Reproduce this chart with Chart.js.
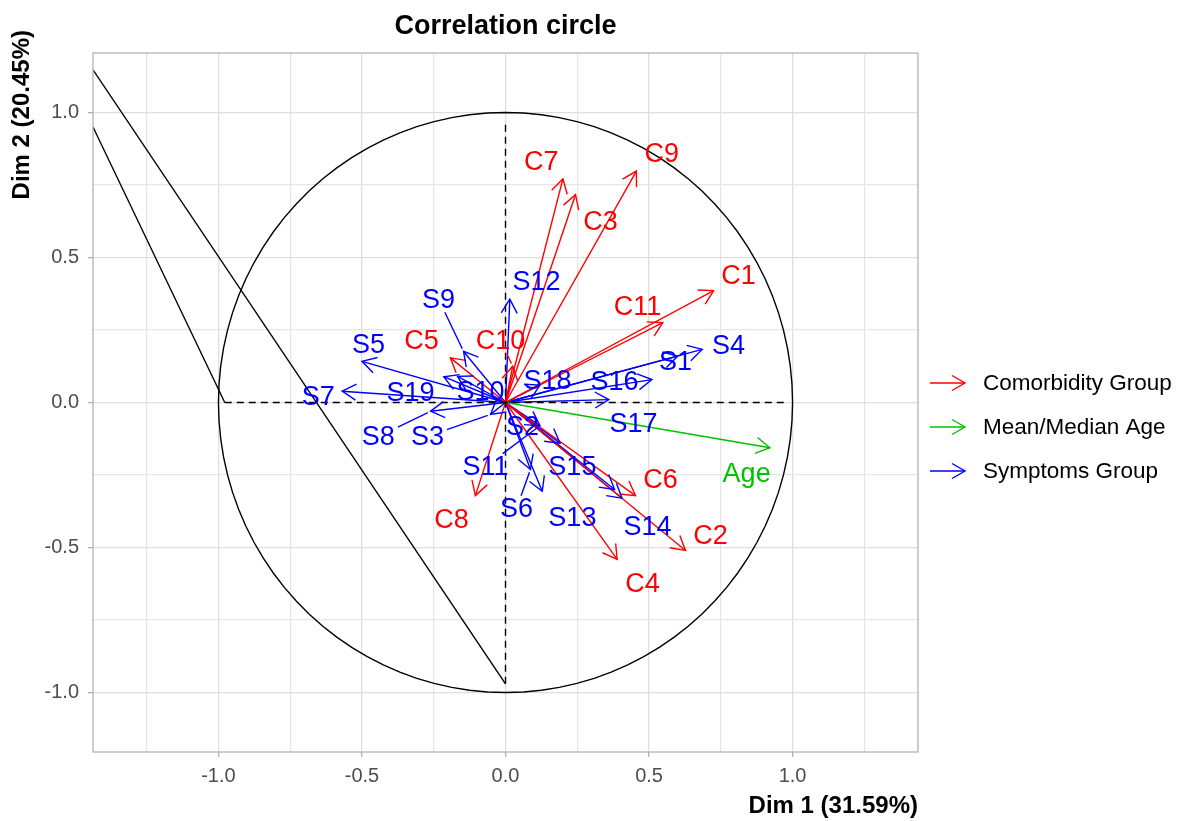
<!DOCTYPE html>
<html>
<head>
<meta charset="utf-8">
<script src="https://cdn.jsdelivr.net/npm/chart.js@4/dist/chart.umd.min.js"></script>
<style>
  html, body { margin: 0; padding: 0; background: #fff; }
  #wrap { width: 1179px; height: 821px; }
</style>
</head>
<body>
<div id="wrap"><canvas id="chart" width="1179" height="821"></canvas></div>
<script>
"use strict";

// ---- data ----
const comorbNames  = ['C1', 'C2', 'C3', 'C4', 'C5', 'C6', 'C7', 'C8', 'C9', 'C10', 'C11'];
const comorbX      = [0.725, 0.627, 0.244, 0.389, -0.192, 0.453, 0.200, -0.105, 0.456, 0.025, 0.548];
const comorbY      = [0.386, -0.510, 0.717, -0.541, 0.154, -0.321, 0.771, -0.321, 0.798, 0.125, 0.275];
const comorbLabelX = [0.812, 0.714, 0.331, 0.477, -0.293, 0.540, 0.125, -0.188, 0.544, -0.017, 0.460];
const comorbLabelY = [0.439, -0.459, 0.625, -0.625, 0.214, -0.266, 0.832, -0.404, 0.860, 0.214, 0.332];

const ageNames  = ['Age'];
const ageX      = [0.921];
const ageY      = [-0.156];
const ageLabelX = [0.840];
const ageLabelY = [-0.245];

const symptNames  = ['S1', 'S2', 'S3', 'S4', 'S5', 'S6', 'S7', 'S8', 'S9', 'S10',
                     'S11', 'S12', 'S13', 'S14', 'S15', 'S16', 'S17', 'S18', 'S19'];
const symptX      = [0.600, 0.190, -0.052, 0.685, -0.500, 0.087, -0.569, -0.261, -0.146, -0.167,
                     0.120, 0.015, 0.380, 0.406, 0.128, 0.510, 0.360, 0.120, -0.215];
const symptY      = [0.160, -0.140, -0.041, 0.183, 0.142, -0.231, 0.039, -0.030, 0.176, 0.090,
                     -0.080, 0.356, -0.300, -0.330, -0.306, 0.079, 0.010, 0.060, 0.089];
const symptLabelX = [0.592, 0.059, -0.272, 0.777, -0.477, 0.038, -0.652, -0.443, -0.233, -0.087,
                     -0.070, 0.108, 0.233, 0.495, 0.233, 0.380, 0.446, 0.146, -0.331];
const symptLabelY = [0.142, -0.083, -0.117, 0.197, 0.200, -0.366, 0.021, -0.117, 0.356, 0.038,
                     -0.221, 0.418, -0.397, -0.428, -0.221, 0.073, -0.073, 0.076, 0.035];

// labels that were pushed away from their arrow and got a leader segment
const leaderNames = ['S9', 'S8', 'S3', 'S11', 'S6', 'C10'];

// reference lines
const hAxisX = [-0.978, 0.970];
const vAxisY = [-0.970, 0.970];
const strayA = [[-1.437, 1.147], [0, -0.970]];
const strayB = [[-1.437, 0.950], [-0.978, 0]];

const gridTicks = [-1.25, -1.0, -0.75, -0.5, -0.25, 0, 0.25, 0.5, 0.75, 1.0, 1.25];
const majorTicks = [-1.0, -0.5, 0, 0.5, 1.0];

const groups = [
  { name: 'Comorbidity Group', color: '#ff0000', names: comorbNames, x: comorbX, y: comorbY, lx: comorbLabelX, ly: comorbLabelY },
  { name: 'Mean/Median Age',   color: '#00c000', names: ageNames,    x: ageX,    y: ageY,    lx: ageLabelX,    ly: ageLabelY },
  { name: 'Symptoms Group',    color: '#0000ff', names: symptNames,  x: symptX,  y: symptY,  lx: symptLabelX,  ly: symptLabelY }
];

const FONT = '"Liberation Sans", Arial, sans-serif';

function isMajor(v) {
  return majorTicks.some(function(m) { return Math.abs(m - v) < 1e-6; });
}

// ---- datasets ----
let _datasets = [];

// unit circle
let _circle = [];
for (let i = 0; i <= 100; i++) {
  let a = i / 100 * 2 * Math.PI;
  _circle.push({ x: Math.cos(a), y: Math.sin(a) });
}
_datasets.push({ data: _circle, borderColor: '#000', borderWidth: 1.4, showLine: true, pointRadius: 0 });

_datasets.push({ data: [{ x: hAxisX[0], y: 0 }, { x: hAxisX[1], y: 0 }], borderColor: '#000', borderWidth: 1.4,
                 borderDash: [7, 5], showLine: true, pointRadius: 0 });
_datasets.push({ data: [{ x: 0, y: vAxisY[0] }, { x: 0, y: vAxisY[1] }], borderColor: '#000', borderWidth: 1.4,
                 borderDash: [7, 5], showLine: true, pointRadius: 0 });
[strayA, strayB].forEach(function(_seg) {
  _datasets.push({ data: _seg.map(function(p) { return { x: p[0], y: p[1] }; }), borderColor: '#000',
                   borderWidth: 1.4, showLine: true, pointRadius: 0 });
});

groups.forEach(function(_g) {
  _g.names.forEach(function(_n, _i) {
    _datasets.push({
      data: [{ x: 0, y: 0 }, { x: _g.x[_i], y: _g.y[_i] }],
      borderColor: _g.color, borderWidth: 1.4, showLine: true, pointRadius: 0,
      arrow: true, labelText: _n, labelX: _g.lx[_i], labelY: _g.ly[_i]
    });
  });
});

// ---- plugin: arrow heads, labels, leaders, border, titles, legend ----
function drawHead(ctx, x0, y0, x1, y1, len) {
  let _ang = Math.atan2(y1 - y0, x1 - x0);
  let _a = Math.PI / 6;
  ctx.beginPath();
  ctx.moveTo(x1 - len * Math.cos(_ang - _a), y1 - len * Math.sin(_ang - _a));
  ctx.lineTo(x1, y1);
  ctx.lineTo(x1 - len * Math.cos(_ang + _a), y1 - len * Math.sin(_ang + _a));
  ctx.stroke();
}

const decorPlugin = {
  id: 'decor',
  afterDatasetsDraw(chart) {
    const ctx = chart.ctx;
    const xs = chart.scales.x, ys = chart.scales.y;
    const area = chart.chartArea;

    ctx.save();
    ctx.beginPath();
    ctx.rect(area.left, area.top, area.right - area.left, area.bottom - area.top);
    ctx.clip();
    ctx.lineWidth = 1.4;
    ctx.lineCap = 'butt';
    ctx.lineJoin = 'miter';

    chart.data.datasets.forEach(function(ds) {
      if (!ds.arrow) return;
      let x0 = xs.getPixelForValue(ds.data[0].x), y0 = ys.getPixelForValue(ds.data[0].y);
      let x1 = xs.getPixelForValue(ds.data[1].x), y1 = ys.getPixelForValue(ds.data[1].y);
      ctx.strokeStyle = ds.borderColor;
      drawHead(ctx, x0, y0, x1, y1, 16);
    });

    ctx.font = '27px ' + FONT;
    ctx.textAlign = 'center';
    ctx.textBaseline = 'middle';
    chart.data.datasets.forEach(function(ds) {
      if (!ds.arrow) return;
      let lx = xs.getPixelForValue(ds.labelX), ly = ys.getPixelForValue(ds.labelY);
      ctx.fillStyle = ds.borderColor;
      ctx.fillText(ds.labelText, lx, ly + 1);

      if (leaderNames.indexOf(ds.labelText) >= 0) {
        let tx = xs.getPixelForValue(ds.data[1].x), ty = ys.getPixelForValue(ds.data[1].y);
        let dx = tx - lx, dy = ty - ly;
        let w = ctx.measureText(ds.labelText).width / 2 + 3, h = 13;
        let t = Math.min(Math.abs(dx) > 0 ? w / Math.abs(dx) : 9, Math.abs(dy) > 0 ? h / Math.abs(dy) : 9);
        let d = Math.sqrt(dx * dx + dy * dy);
        if (t < 1) {
          ctx.strokeStyle = ds.borderColor;
          ctx.beginPath();
          ctx.moveTo(lx + dx * t, ly + dy * t);
          ctx.lineTo(tx - dx / d * 3, ty - dy / d * 3);
          ctx.stroke();
        }
      }
    });
    ctx.restore();

    // panel border
    ctx.save();
    ctx.strokeStyle = '#b3b3b3';
    ctx.lineWidth = 1.3;
    ctx.strokeRect(area.left, area.top, area.right - area.left, area.bottom - area.top);
    ctx.restore();
  },
  afterDraw(chart) {
    const ctx = chart.ctx;
    const area = chart.chartArea;
    ctx.save();
    ctx.fillStyle = '#000';
    ctx.font = 'bold 27px ' + FONT;
    ctx.textAlign = 'center';
    ctx.textBaseline = 'middle';
    ctx.fillText('Correlation circle', (area.left + area.right) / 2, 27);

    ctx.font = 'bold 24px ' + FONT;
    ctx.textAlign = 'right';
    ctx.fillText('Dim 1 (31.59%)', area.right, 806);

    ctx.translate(22, 30);
    ctx.rotate(-Math.PI / 2);
    ctx.textAlign = 'right';
    ctx.fillText('Dim 2 (20.45%)', 0, 0);
    ctx.restore();

    // legend
    ctx.save();
    ctx.lineWidth = 1.4;
    ctx.font = '22.5px ' + FONT;
    ctx.textAlign = 'left';
    ctx.textBaseline = 'middle';
    groups.forEach(function(_g, _i) {
      let yy = 383 + _i * 44;
      ctx.strokeStyle = _g.color;
      ctx.beginPath();
      ctx.moveTo(930, yy);
      ctx.lineTo(965, yy);
      ctx.stroke();
      drawHead(ctx, 930, yy, 965, yy, 15);
      ctx.fillStyle = '#000';
      ctx.fillText(_g.name, 983, yy + 1);
    });
    ctx.restore();
  }
};

function gridColor(c) { return c.tick && isMajor(c.tick.value) ? '#dedede' : '#e6e6e6'; }
function tickColor(c) { return c.tick && isMajor(c.tick.value) ? '#b3b3b3' : 'rgba(0,0,0,0)'; }
function tickLabel(v) { return isMajor(v) ? v.toFixed(1) : ''; }
function setTicks(scale) {
  scale.ticks = gridTicks
    .filter(function(v) { return v >= scale.min && v <= scale.max; })
    .map(function(v) { return { value: v }; });
}

new Chart(document.getElementById('chart'), {
  type: 'scatter',
  data: { datasets: _datasets },
  plugins: [decorPlugin],
  options: {
    responsive: false,
    animation: false,
    devicePixelRatio: 1,
    layout: { padding: { top: 53, right: 261, left: 0, bottom: 0 } },
    plugins: { legend: { display: false }, tooltip: { enabled: false }, title: { display: false } },
    scales: {
      x: {
        type: 'linear', min: -1.437, max: 1.437,
        afterBuildTicks: setTicks,
        afterFit: function(s) { s.height = 69; },
        grid: { color: gridColor, lineWidth: 1.3, tickColor: tickColor, tickLength: 5, tickWidth: 1.3 },
        border: { display: false },
        ticks: { callback: tickLabel, color: '#4d4d4d', font: { size: 20, family: FONT }, padding: 7,
                 autoSkip: false, maxRotation: 0 }
      },
      y: {
        type: 'linear', min: -1.205, max: 1.205,
        afterBuildTicks: setTicks,
        afterFit: function(s) { s.width = 93; },
        grid: { color: gridColor, lineWidth: 1.3, tickColor: tickColor, tickLength: 5, tickWidth: 1.3 },
        border: { display: false },
        ticks: { callback: tickLabel, color: '#4d4d4d', font: { size: 20, family: FONT }, padding: 9,
                 autoSkip: false }
      }
    }
  }
});
</script>
</body>
</html>
